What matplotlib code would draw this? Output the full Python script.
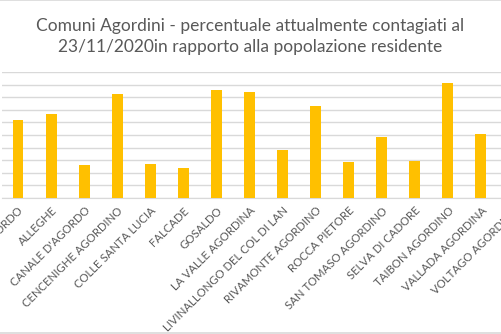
import matplotlib
matplotlib.use('Agg')
import matplotlib.pyplot as plt
from matplotlib.lines import Line2D

comuni = ['AGORDO', 'ALLEGHE', "CANALE D'AGORDO", 'CENCENIGHE AGORDINO',
          'COLLE SANTA LUCIA', 'FALCADE', 'GOSALDO', 'LA VALLE AGORDINA',
          'LIVINALLONGO DEL COL DI LAN', 'RIVAMONTE AGORDINO', 'ROCCA PIETORE',
          'SAN TOMASO AGORDINO', 'SELVA DI CADORE', 'TAIBON AGORDINO',
          'VALLADA AGORDINA', 'VOLTAGO AGORDINO']
percentuali = [1.24, 1.33, 0.52, 1.65, 0.54, 0.48, 1.71, 1.68,
               0.76, 1.46, 0.57, 0.97, 0.59, 1.83, 1.02, 1.00]
y_ticks = [0.0, 0.2, 0.4, 0.6, 0.8, 1.0, 1.2, 1.4, 1.6, 1.8, 2.0]

titolo = 'Comuni Agordini - percentuale attualmente contagiati al\n23/11/2020in rapporto alla popolazione residente'

plt.rcParams['font.family'] = ['Lato', 'DejaVu Sans']

fig = plt.figure(figsize=(5.01, 3.34), dpi=100)
# the chart is cropped: the plot area runs past both sides of the picture
ax = fig.add_axes([1.5 / 501, (334 - 198) / 334, 529 / 501, 126 / 334])

x = range(len(comuni))
ax.bar(x, percentuali, width=0.33, color='#FFC000', zorder=3)
ax.set_xlim(-0.5, len(comuni) - 0.5)
ax.set_ylim(0, 2.0)
ax.set_yticks(y_ticks)
ax.yaxis.grid(True, color='#d9d9d9', linewidth=1)
ax.tick_params(axis='y', left=False, labelleft=False)
ax.tick_params(axis='x', length=0, pad=5)
ax.set_xticks(list(x))
ax.set_xticklabels(comuni, rotation=45, ha='right', va='top',
                   rotation_mode='anchor', fontsize=8.2, color='#595959')
for s in ['top', 'right', 'left']:
    ax.spines[s].set_visible(False)
ax.spines['bottom'].set_color('#d9d9d9')

fig.text(0.5, 0.945, titolo, ha='center', va='top', fontsize=12.5,
         color='#595959', linespacing=1.38)

# chart border lines at top and bottom of the crop
fig.add_artist(Line2D([0, 1], [0.999, 0.999], transform=fig.transFigure,
                      color='#d9d9d9', linewidth=1.2))
fig.add_artist(Line2D([0, 1], [0.002, 0.002], transform=fig.transFigure,
                      color='#d9d9d9', linewidth=1.2))

fig.savefig('out.png', dpi=100, facecolor='white')
